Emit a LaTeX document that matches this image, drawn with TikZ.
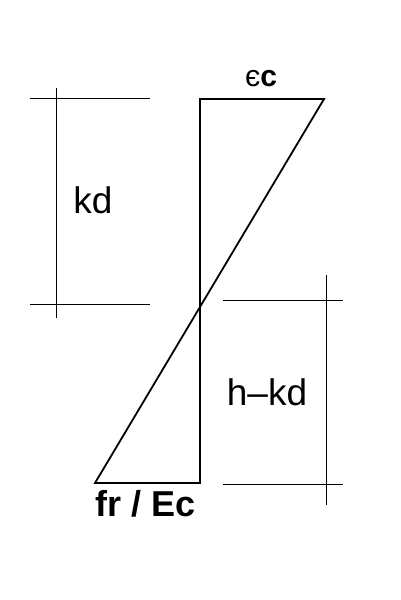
\documentclass[tikz,border=0pt]{standalone}
\usepackage{fontspec}
\setmainfont{Liberation Sans}
\begin{document}
\begin{tikzpicture}[x=1pt,y=-1pt,
  dim/.style={line width=0.8pt,black},
  strainline/.style={line width=1.8pt,black,line join=miter},
  lbl/.style={inner sep=0pt,font=\fontsize{37}{40}\selectfont},
  blbl/.style={inner sep=0pt,font=\fontsize{36}{39}\selectfont\bfseries}]
\useasboundingbox (0,0) rectangle (400,600);
% main strain diagram
\coordinate (tl) at (200,99);
\coordinate (tr) at (324,99);
\coordinate (bl) at (95,483);
\coordinate (br) at (200,483);
\draw[strainline] (bl) -- (br) -- (tl) -- (tr) -- cycle;
% left dimension (kd)
\coordinate (l1a) at (30,98);  \coordinate (l1b) at (150,98);
\coordinate (l2a) at (30,304); \coordinate (l2b) at (150,304);
\coordinate (lva) at (56,88);  \coordinate (lvb) at (56,318);
\draw[dim] (l1a) -- (l1b);
\draw[dim] (l2a) -- (l2b);
\draw[dim] (lva) -- (lvb);
% right dimension (h-kd)
\coordinate (r1a) at (223,300); \coordinate (r1b) at (343,300);
\coordinate (r2a) at (223,484); \coordinate (r2b) at (343,484);
\coordinate (rva) at (326,275); \coordinate (rvb) at (326,505);
\draw[dim] (r1a) -- (r1b);
\draw[dim] (r2a) -- (r2b);
\draw[dim] (rva) -- (rvb);
% labels
\node[lbl,anchor=base] (kd) at (93,213) {kd};
\node[lbl,anchor=base] (hkd) at (267,405) {h–kd};
\node[inner sep=0pt,anchor=base,font=\fontsize{30}{33}\selectfont] (ec) at (261,86) {є\textbf{c}};
\node[blbl,anchor=base] (fr) at (146,516) {fr / Ec};
\end{tikzpicture}
\end{document}
